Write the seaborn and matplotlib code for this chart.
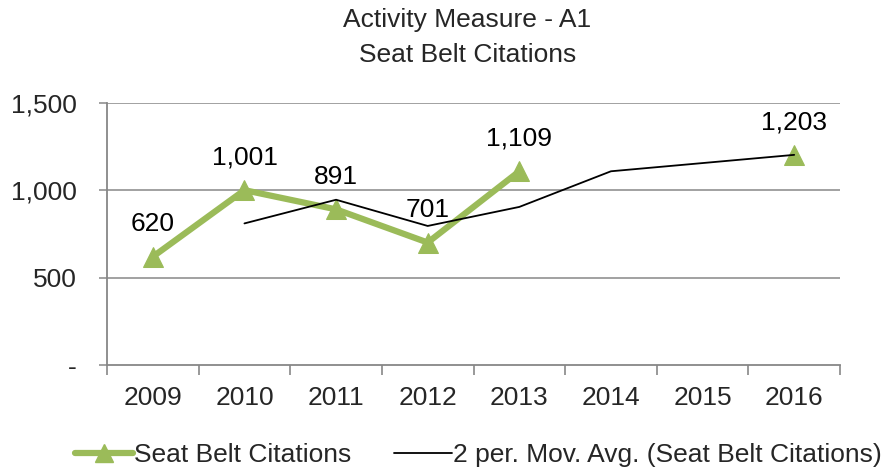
import numpy as np
import pandas as pd
import matplotlib
matplotlib.use('Agg')
import matplotlib.pyplot as plt
import seaborn as sns
from matplotlib.lines import Line2D

years = ['2009', '2010', '2011', '2012', '2013', '2014', '2015', '2016']
citations = [620, 1001, 891, 701, 1109, np.nan, np.nan, 1203]
# segment ids so the gap 2014-2015 stays open
segments = [0, 0, 0, 0, 0, 1, 1, 1]
mov_avg = [np.nan, 810.5, 946, 796, 905, 1109, 1156, 1203]
y_ticks = [0, 500, 1000, 1500]
y_tick_labels = ['-', '500', '1,000', '1,500']

green = '#9BBB59'
grid_gray = '#878787'
fs = 19

sns.set_theme(style='white')
plt.rcParams['font.family'] = ['Liberation Sans', 'DejaVu Sans']

df = pd.DataFrame({'pos': range(len(years)), 'year': years,
                   'citations': citations, 'seg': segments, 'mavg': mov_avg})

fig = plt.figure(figsize=(8.94, 4.70), dpi=100)
ax = fig.add_axes([0.1197, 0.2234, 0.8199, 0.5575])

for y in y_ticks[1:]:
    ax.axhline(y, color=grid_gray, lw=1.1, zorder=0)

df_c = df.dropna(subset=['citations'])
sns.lineplot(data=df_c, x='pos', y='citations', units='seg', estimator=None,
             color=green, lw=4.5, marker='^', markersize=15, markeredgecolor=green,
             ax=ax, legend=False, zorder=3)

df_m = df.dropna(subset=['mavg'])
sns.lineplot(data=df_m, x='pos', y='mavg', color='black', lw=1.3,
             ax=ax, legend=False, zorder=4)

for _, r in df_c.iterrows():
    ax.annotate(f"{int(r['citations']):,}", (r['pos'], r['citations']),
                xytext=(0, 15), textcoords='offset points', ha='center', va='bottom',
                fontsize=fs, color='black')

ax.set_xlim(-0.5, len(years) - 0.5)
ax.set_ylim(0, 1500)
ax.set_xticks(np.arange(-0.5, len(years), 1.0))
ax.set_xticklabels([])
ax.set_xticks(range(len(years)), minor=True)
ax.set_xticklabels(years, minor=True, fontsize=fs)
ax.tick_params(axis='x', which='major', direction='out', length=7, width=1.2,
               color=grid_gray, bottom=True)
ax.tick_params(axis='x', which='minor', length=0, pad=15)
ax.set_yticks(y_ticks)
ax.set_yticklabels(y_tick_labels, fontsize=fs)
ax.tick_params(axis='y', direction='out', length=6, width=1.1, color=grid_gray,
               left=True, pad=16)
ax.set_xlabel('')
ax.set_ylabel('')

for s in ['top', 'right']:
    ax.spines[s].set_visible(False)
for s in ['left', 'bottom']:
    ax.spines[s].set_color(grid_gray)
    ax.spines[s].set_linewidth(1.3)

fig.text(0.523, 0.957, 'Activity Measure - A1', ha='center', va='center', fontsize=fs)
fig.text(0.523, 0.883, 'Seat Belt Citations', ha='center', va='center', fontsize=fs)

handles = [Line2D([], [], color=green, lw=4.5, marker='^', markersize=13),
           Line2D([], [], color='black', lw=1.3)]
fig.legend(handles, ['Seat Belt Citations', '2 per. Mov. Avg. (Seat Belt Citations)'],
           loc='center', bbox_to_anchor=(0.535, 0.032), ncol=2, frameon=False,
           fontsize=fs, handlelength=2.2, handletextpad=0.05, columnspacing=1.6,
           borderpad=0.1)

fig.savefig('out.png', dpi=100)
